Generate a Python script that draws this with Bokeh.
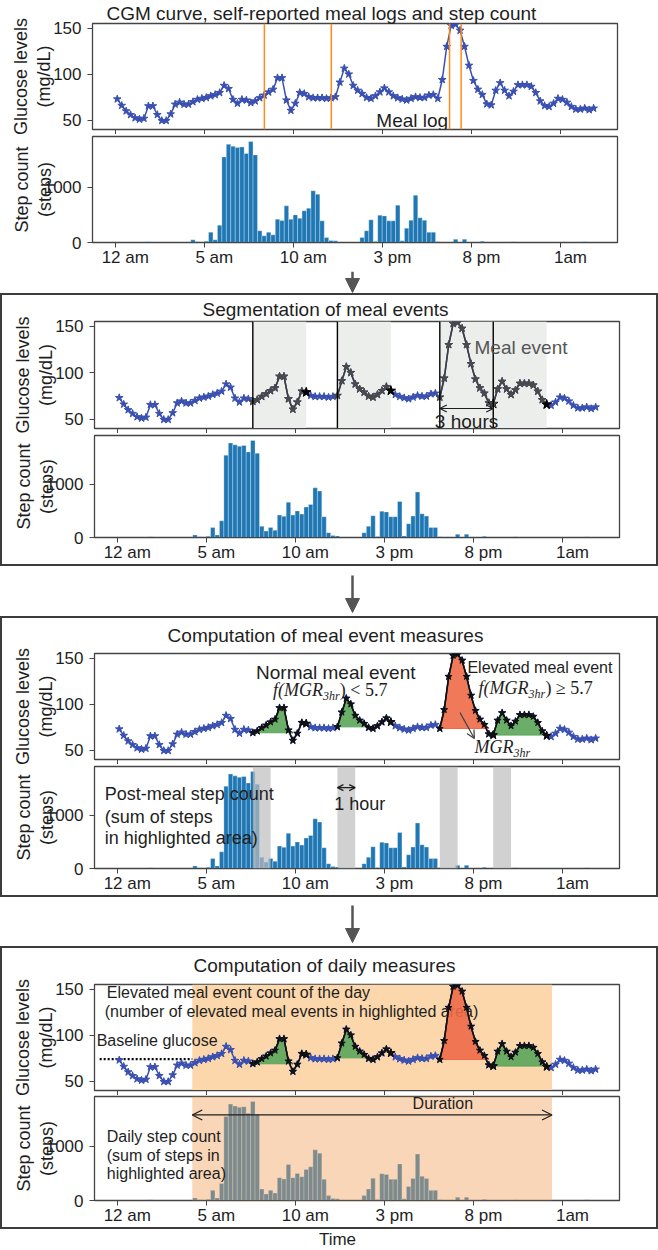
from bokeh.plotting import figure
from bokeh.layouts import column
from bokeh.models import (Range1d, FixedTicker, Label, Span, BoxAnnotation, Arrow, NormalHead, OpenHead,
                          LinearAxis)
from bokeh.embed import file_html
from bokeh.resources import INLINE
from bokeh.core.properties import value

# ---------------- data ----------------
start_hour = 0.1
sample_step = 0.25
glucose = [73, 66, 60, 56, 52.5, 51, 52, 65.5, 65.5, 56,
           49.6, 49.6, 56.7, 67.3, 69.4, 67.3, 67.3, 70, 72.5, 73.6,
           74.6, 76.4, 77.8, 79.9, 87.7, 84.2, 72.5, 68.3, 72.5, 71.8,
           69, 70.8, 74.3, 77.1, 80.5, 83.5, 96, 96, 71.8, 60.6,
           68.3, 80, 78.9, 75.4, 74.3, 74.3, 74.3, 73.6, 74.3, 75.4,
           91.2, 106.3, 100, 87.7, 82.4, 78.9, 74.6, 73.6, 76.4, 80.6,
           84.9, 80.6, 76.4, 74.3, 72.9, 71.8, 73.6, 75.4, 74.6, 74.6,
           77.1, 77.8, 73.6, 94, 130, 152.8, 153.9, 147.5, 130, 109.5,
           93, 83.5, 77.8, 67.6, 66.5, 82.4, 90.5, 82.4, 76.4, 81.3,
           88.4, 88.4, 88.4, 86.6, 79.9, 70.8, 65.8, 64.8, 68.3, 73.6,
           72.5, 69.4, 64.8, 62, 62, 63, 61.3, 63]
steps = [0, 0, 0, 0, 0, 0, 0, 12, 0, 0,
         0, 0, 0, 0, 0, 0, 0, 48, 12, 0,
         24, 187, 48, 313, 1546, 1775, 1739, 1715, 1727, 1607,
         1823, 1583, 211, 120, 187, 138, 421, 397, 662, 421,
         499, 439, 572, 620, 933, 872, 391, 90, 36, 30,
         0, 0, 0, 0, 0, 90, 211, 409, 18, 493,
         481, 391, 391, 674, 30, 259, 403, 854, 445, 403,
         187, 187, 12, 0, 0, 0, 60, 0, 60, 0,
         0, 0, 24, 0, 0, 0, 0, 0, 0, 12,
         0, 0, 0, 0, 0, 0, 0, 0, 0, 0,
         0, 0, 0, 0, 0, 12, 0, 0]
times = [start_hour + sample_step * i for i in range(len(glucose))]

tick_hours = [0, 5, 10, 15, 20, 25]
tick_labels = ["12 am", "5 am", "10 am", "3 pm", "8 pm", "1am"]
glucose_ticks = [50, 100, 150]
step_ticks = [0, 1000]
meal_logs = [8.36, 12.12, 18.76, 19.41]
event_starts = [7.6, 12.35, 18.1, 21.1]
event_hours = 3.0
event_elevated = [False, False, True, False]
post_meal_hours = 1.0
day_start, day_end = 4.2, 24.4
baseline_glucose = 74

# ---------------- style ----------------
FONT = "Liberation Sans"
SERIF = "Liberation Serif"
BLUE = "#3a50b0"
BAR = "#1f77b4"
AX = "#444444"
TXT = "#1e1e1e"
ARW = "#555555"
GREEN = "#5aa55a"
RED = "#ee6a48"
XR = (-1.29, 28.19)
GR = (40, 155)
SR = (0, 1915)
FRAME_W = 525
W_OUT = 658
W_IN = 654
LEFT = 92
LABEL_SHIFT = 0.55


def make_fig(width, top, frame_h, bottom, yr, yticks, show_xlabels):
    p = figure(width=width, height=top + frame_h + bottom,
               x_range=Range1d(*XR), y_range=Range1d(*yr),
               output_backend="svg", toolbar_location=None,
               min_border_left=LEFT, min_border_right=width - LEFT - FRAME_W,
               min_border_top=top, min_border_bottom=bottom)
    p.xgrid.visible = False
    p.ygrid.visible = False
    p.outline_line_color = AX
    p.outline_line_width = 1.3
    p.outline_line_alpha = 1
    p.xaxis.ticker = FixedTicker(ticks=tick_hours)
    p.yaxis.ticker = FixedTicker(ticks=yticks)
    for ax in (p.xaxis[0], p.yaxis[0]):
        ax.axis_line_color = AX
        ax.major_tick_line_color = AX
        ax.major_tick_out = 5
        ax.major_tick_in = 0
        ax.minor_tick_line_color = None
        ax.major_label_text_font = FONT
        ax.major_label_text_font_size = "17px"
        ax.major_label_text_color = TXT
        ax.major_label_standoff = 6
    # x tick marks only; labels come from a second, label-only axis
    p.xaxis.major_label_text_font_size = "0px"
    p.xaxis.major_label_text_color = None
    p.xaxis.major_label_standoff = 0
    if show_xlabels:
        shifted = [round(h + LABEL_SHIFT, 2) for h in tick_hours]
        lab = LinearAxis(ticker=FixedTicker(ticks=shifted),
                         major_label_overrides={s: l for s, l in zip(shifted, tick_labels)},
                         axis_line_color=None, major_tick_line_color=None, minor_tick_line_color=None,
                         major_tick_out=0, major_tick_in=0, major_label_standoff=0,
                         major_label_text_font=FONT, major_label_text_font_size="17px",
                         major_label_text_color=TXT)
        p.add_layout(lab, "below")
    return p


def ylab(p, txt, standoff):
    p.yaxis.axis_label = txt
    p.yaxis.axis_label_text_font = FONT
    p.yaxis.axis_label_text_font_size = "18px"
    p.yaxis.axis_label_text_font_style = "normal"
    p.yaxis.axis_label_text_color = TXT
    p.yaxis.axis_label_text_line_height = 1.15
    p.yaxis.axis_label_standoff = standoff


def set_title(p, txt, offset, standoff):
    p.title.text = txt
    p.title.align = "left"
    p.title.offset = offset
    p.title.standoff = standoff
    p.title.text_font = FONT
    p.title.text_font_size = "19px"
    p.title.text_font_style = "normal"
    p.title.text_color = TXT


def glucose_fig(width, top, frame_h):
    p = make_fig(width, top, frame_h, 5, GR, glucose_ticks, False)
    ylab(p, "Glucose levels\n(mg/dL)", -4)
    return p


def steps_fig(width, top, frame_h, bottom):
    p = make_fig(width, top, frame_h, bottom, SR, step_ticks, True)
    ylab(p, "Step count\n(steps)", -14)
    p.vbar(x=times, top=steps, width=sample_step, fill_color=BAR, line_color="white",
           line_alpha=0.5, line_width=0.6)
    return p


def blank_fig(width, height):
    # frames in a column are aligned, so the x range is given in page pixels of the frame
    off = 0 if width == W_OUT else 2
    p = figure(width=width, height=height,
               x_range=Range1d(LEFT + off, LEFT + FRAME_W + off), y_range=Range1d(0, height),
               output_backend="svg", toolbar_location=None, min_border=0,
               x_axis_type=None, y_axis_type=None)
    p.grid.visible = False
    p.outline_line_color = None
    return p


def title_fig(width, height, txt, x, y):
    p = blank_fig(width, height)
    p.add_layout(Label(x=x, y=y, text=txt, text_align="center", text_baseline="middle",
                       text_font=FONT, text_font_size="19px", text_color=TXT))
    return p


def arrow_fig(width, height, x, y0, y1):
    p = blank_fig(width, height)
    p.add_layout(Arrow(x_start=x, y_start=y0, x_end=x, y_end=y1, line_color=ARW, line_width=2.5,
                       end=NormalHead(size=14, fill_color=ARW, line_color=ARW)))
    return p


def curve(p, color=BLUE):
    p.line(times, glucose, line_color=color, line_width=1.5)
    p.scatter(times, glucose, marker="star", size=8, fill_color=color, line_color=color)


def idx_of(h):
    return int(round((h - start_hour) / sample_step))


def event_segments(p, color, mark_color, end_color, size=8):
    for s in event_starts:
        i0 = idx_of(s)
        i1 = idx_of(s + event_hours)
        xs, ys = times[i0:i1 + 1], glucose[i0:i1 + 1]
        p.line(xs, ys, line_color=color, line_width=1.6)
        p.scatter(xs, ys, marker="star", size=size, fill_color=mark_color, line_color=mark_color)
        p.scatter([times[i1]], [glucose[i1]], marker="star", size=size + 2,
                  fill_color=end_color, line_color=end_color)


def event_fills(p):
    for s, elev in zip(event_starts, event_elevated):
        i0 = idx_of(s)
        base = glucose[i0]
        j = i0 + 1
        while j < len(glucose) - 1 and glucose[j] >= base:
            j += 1
        xs = times[i0:j + 1]
        top = [max(g, base) for g in glucose[i0:j + 1]]
        col = RED if elev else GREEN
        p.varea(x=xs, y1=[base] * len(xs), y2=top, fill_color=col, fill_alpha=0.9)
        p.line(xs, top, line_color="#1e1e1e", line_width=1.4)
        p.line([xs[0], xs[-1]], [base, base], line_color=col, line_width=1.0)


def mgr(p, x, y, tail, size=18):
    kw = dict(text_font=SERIF, text_color=TXT, text_baseline="middle", text_align="left")
    p.add_layout(Label(x=x, y=y, text="f(MGR" if tail else "MGR", text_font_style="italic",
                       text_font_size=f"{size}px", **kw))
    head_w = size * (2.78 if tail else 2.17)
    p.add_layout(Label(x=x, y=y, x_offset=head_w, y_offset=-6, text="3hr", text_font_style="italic",
                       text_font_size=f"{int(size * 0.67)}px", **kw))
    if tail:
        p.add_layout(Label(x=x, y=y, x_offset=head_w + size * 0.67 * 1.4, text=tail,
                           text_font_size=f"{size}px", **kw))


def dbl_arrow(p, x0, x1, y, size, lw=1.2):
    p.add_layout(Arrow(x_start=x0, x_end=x1, y_start=y, y_end=y, line_color=TXT, line_width=lw,
                       start=OpenHead(size=size, line_color=TXT, line_width=lw),
                       end=OpenHead(size=size, line_color=TXT, line_width=lw)))


def lbl(p, x, y, txt, size, align="left", color=TXT):
    p.add_layout(Label(x=x, y=y, text=txt, text_font=FONT, text_font_size=f"{size}px",
                       text_color=color, text_align=align, text_baseline="middle"))


BOX = {"border": "2px solid #3c3c3c"}

# ---------------- panel 1 ----------------
g1 = glucose_fig(W_OUT, 21, 108)
set_title(g1, "CGM curve, self-reported meal logs and step count", 14, 0)
curve(g1)
for m in meal_logs:
    g1.add_layout(Span(location=m, dimension="height", line_color="#ff8c1a", line_width=1.5))
lbl(g1, 14.65, 49.5, "Meal log", 19)
s1 = steps_fig(W_OUT, 2, 106, 29)
a1 = arrow_fig(W_OUT, 22, 352, 22, 1)

# ---------------- panel 2 ----------------
g2 = glucose_fig(W_IN, 26, 107)
set_title(g2, "Segmentation of meal events", 108, 3)
for s in event_starts:
    g2.add_layout(BoxAnnotation(left=s, right=s + event_hours, fill_color="#eceeec", fill_alpha=1,
                                line_color=None, level="underlay"))
curve(g2)
event_segments(g2, "#3d3d3d", "#4a4a4a", "black")
for s in event_starts:
    g2.add_layout(Span(location=s, dimension="height", line_color="black", line_width=1.4))
lbl(g2, 20.05, 126.8, "Meal event", 19, color="#555555")
dbl_arrow(g2, event_starts[2], event_starts[2] + event_hours, 61.5, 7)
lbl(g2, 19.6, 48, "3 hours", 19, align="center")
s2 = steps_fig(W_IN, 2, 106, 23)
box2 = column(g2, s2, styles=BOX)
a2 = arrow_fig(W_OUT, 50, 352, 41, 4)

# ---------------- panel 3 ----------------
t3 = title_fig(W_IN, 30, "Computation of meal event measures", 325, 13)
g3 = glucose_fig(W_IN, 5, 106)
curve(g3)
event_fills(g3)
event_segments(g3, "#111111", "#111111", "#111111", size=7)
lbl(g3, 7.78, 134.4, "Normal meal event", 19)
mgr(g3, 8.73, 114.9, ") < 5.7")
lbl(g3, 19.65, 139.8, "Elevated meal event", 16)
mgr(g3, 20.27, 118.1, ") \u2265 5.7")
g3.add_layout(Arrow(x_start=19.23, y_start=91, x_end=20.04, y_end=62.8, line_color="#444444", line_width=1.3,
                    end=OpenHead(size=8, line_color="#444444", line_width=1.3)))
mgr(g3, 20.05, 54.1, None)
s3 = steps_fig(W_IN, 2, 106, 23)
for s in event_starts:
    s3.add_layout(BoxAnnotation(left=s, right=s + post_meal_hours, fill_color="#bdbdbd", fill_alpha=0.7,
                                line_color=None))
dbl_arrow(s3, event_starts[1], event_starts[1] + post_meal_hours, 1518, 6)
lbl(s3, 12.17, 1211, "1 hour", 18)
for txt, yy in (("Post-meal step count", 1391), ("(sum of steps", 976), ("in highlighted area)", 578)):
    lbl(s3, -0.72, yy, txt, 18)
box3 = column(t3, g3, s3, styles=BOX)
a3 = arrow_fig(W_OUT, 49, 352, 41, 4)

# ---------------- panel 4 ----------------
t4 = title_fig(W_IN, 31, "Computation of daily measures", 324, 14)
g4 = glucose_fig(W_IN, 5, 106)
g4.add_layout(BoxAnnotation(left=day_start, right=day_end, fill_color="#fcd7ab", fill_alpha=1,
                            line_color=None, level="underlay"))
g4.text(x=[-0.6, -0.72], y=[146.3, 125.7],
        text=["Elevated meal event count of the day", "(number of elevated meal events in highlighted area)"],
        text_font=value(FONT), text_font_size="16px", text_color=TXT, text_baseline="middle")
g4.text(x=[-1.17], y=[94.2], text=["Baseline glucose"], text_font=value(FONT), text_font_size="16px",
        text_color=TXT, text_baseline="middle")
g4.line([-1.0, day_start], [baseline_glucose, baseline_glucose], line_color="black", line_width=2.2,
        line_dash="2 2")
curve(g4)
event_fills(g4)
event_segments(g4, "#111111", "#111111", "#111111", size=7)
s4 = steps_fig(W_IN, 1, 107, 24)
s4.add_layout(BoxAnnotation(left=day_start, right=day_end, fill_color="#f2a560", fill_alpha=0.45,
                            line_color=None))
dbl_arrow(s4, day_start, day_end, 1575, 10, 1.3)
lbl(s4, 18.27, 1790, "Duration", 16, align="center")
for txt, yy in (("Daily step count", 1181), ("(sum of steps in", 823), ("highlighted area)", 501)):
    lbl(s4, -0.6, yy, txt, 16)
box4 = column(t4, g4, s4, styles=BOX)

tf = blank_fig(W_OUT, 20)
tf.add_layout(Label(x=337, y=10, text="Time", text_font=FONT, text_font_size="17px", text_color=TXT,
                    text_align="center", text_baseline="middle"))

layout = column(g1, s1, a1, box2, a2, box3, a3, box4, tf)
open("out.html", "w").write(file_html(layout, INLINE))
